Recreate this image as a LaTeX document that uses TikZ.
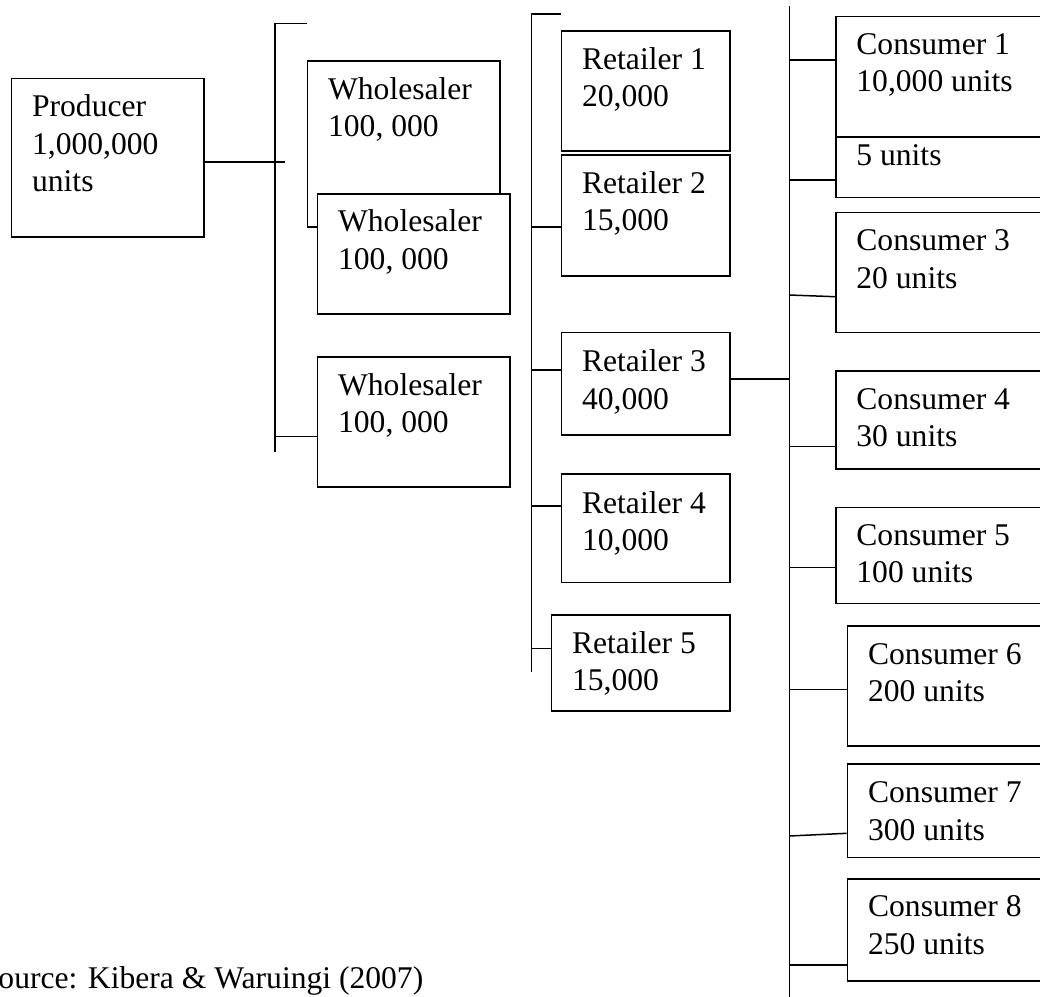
\documentclass[tikz,border=0pt]{standalone}
\usepackage{fontspec}
\setmainfont{Liberation Serif}
\tikzset{
  box/.style={draw, line width=0.75pt, inner sep=0pt, anchor=north west, fill=white},
  lbl/.style={anchor=base west, inner sep=0pt, font=\fontsize{15.8}{18.75}\selectfont},
  ln/.style={line width=0.75pt}
}
% name, x1, y1, x2, y2, baseline offset, text
\newcommand\mybox[7]{%
  \node[box, minimum width={(#4-#2)*0.5pt}, minimum height={(#5-#3)*0.5pt}] (#1) at (#2,#3) {};
  \node[lbl] (#1t) at ([shift={(21,#6)}]#1.north west) {\begin{tabular}[t]{@{}l@{}}#7\end{tabular}};}
\begin{document}
\begin{tikzpicture}[x=0.5pt, y=-0.5pt]
\useasboundingbox (0,0) rectangle (1040,997);
% bars
\coordinate (wTop) at (275,23.7);
\coordinate (wBot) at (275,451.7);
\coordinate (wTick) at (306.7,23.7);
\coordinate (rTop) at (531.7,14);
\coordinate (rBot) at (531.7,671.7);
\coordinate (rTick) at (560.7,14);
\coordinate (cTop) at (789.3,6);
\coordinate (cBot) at (789.3,1000);
\coordinate (pj) at (285,162);

\draw[ln] (wTick) -- (wTop) -- (wBot);
\draw[ln] (rTick) -- (rTop) -- (rBot);
\draw[ln] (cTop) -- (cBot);

% boxes
\mybox{prod}{10.7}{77.7}{203.3}{236}{39}{Producer\\1,000,000\\units}
\mybox{w1}{306.7}{60}{499.3}{226}{39}{Wholesaler\\100, 000}
\mybox{w2}{316.7}{193.3}{509.3}{313.3}{38.5}{Wholesaler\\100, 000}
\mybox{w3}{316.7}{356}{509.3}{486}{39}{Wholesaler\\100, 000}
\mybox{r1}{560.7}{30}{729.3}{150}{39.3}{Retailer 1\\20,000}
\mybox{r2}{560.7}{154.3}{729.3}{275}{39}{Retailer 2\\15,000}
\mybox{r3}{560.7}{331.7}{729.3}{434}{40}{Retailer 3\\40,000}
\mybox{r4}{560.7}{473.3}{729.3}{581.7}{40}{Retailer 4\\10,000}
\mybox{r5}{550.7}{614}{729.3}{710}{39.3}{Retailer 5\\15,000}
\mybox{c1}{835}{15.7}{1050}{136}{38.6}{Consumer 1\\10,000 units}
\mybox{c2}{835}{136}{1050}{196.7}{29}{5 units}
\mybox{c3}{835}{211.7}{1050}{331.7}{39}{Consumer 3\\20 units}
\mybox{c4}{835}{370}{1050}{468.3}{39.3}{Consumer 4\\30 units}
\mybox{c5}{835}{506.7}{1050}{602.7}{38.3}{Consumer 5\\100 units}
\mybox{c6}{846.7}{625}{1050}{745}{39.3}{Consumer 6\\200 units}
\mybox{c7}{846.7}{763.3}{1050}{856.7}{39.4}{Consumer 7\\300 units}
\mybox{c8}{846.7}{878.3}{1050}{980}{38.4}{Consumer 8\\250 units}

% connectors
\draw[ln] (prod.east |- pj) -- (pj);
\draw[ln] (w3.west |- 0,436.7) -- (wTop |- 0,436.7);
\draw[ln] (r2.west |- 0,227) -- (rTop |- 0,227);
\draw[ln] (r3.west |- 0,370) -- (rTop |- 0,370);
\draw[ln] (r4.west |- 0,506) -- (rTop |- 0,506);
\draw[ln] (r5.west |- 0,648.3) -- (rTop |- 0,648.3);
\draw[ln] (r3.east |- 0,379) -- (cTop |- 0,379);
\draw[ln] (c1.west |- 0,60) -- (cTop |- 0,60);
\draw[ln] (c2.west |- 0,180) -- (cTop |- 0,180);
\draw[ln] (c3.west |- 0,296.7) -- (cTop |- 0,295);
\draw[ln] (c4.west |- 0,446.7) -- (cTop |- 0,446.7);
\draw[ln] (c5.west |- 0,567.3) -- (cTop |- 0,567.3);
\draw[ln] (c6.west |- 0,689.3) -- (cTop |- 0,689.3);
\draw[ln] (c7.west |- 0,833.3) -- (cTop |- 0,836);
\draw[ln] (c8.west |- 0,965) -- (cTop |- 0,965);

% source
\node[lbl] (src) at (-19.5,988) {Source: Kibera \& Waruingi (2007)};
\end{tikzpicture}
\end{document}
